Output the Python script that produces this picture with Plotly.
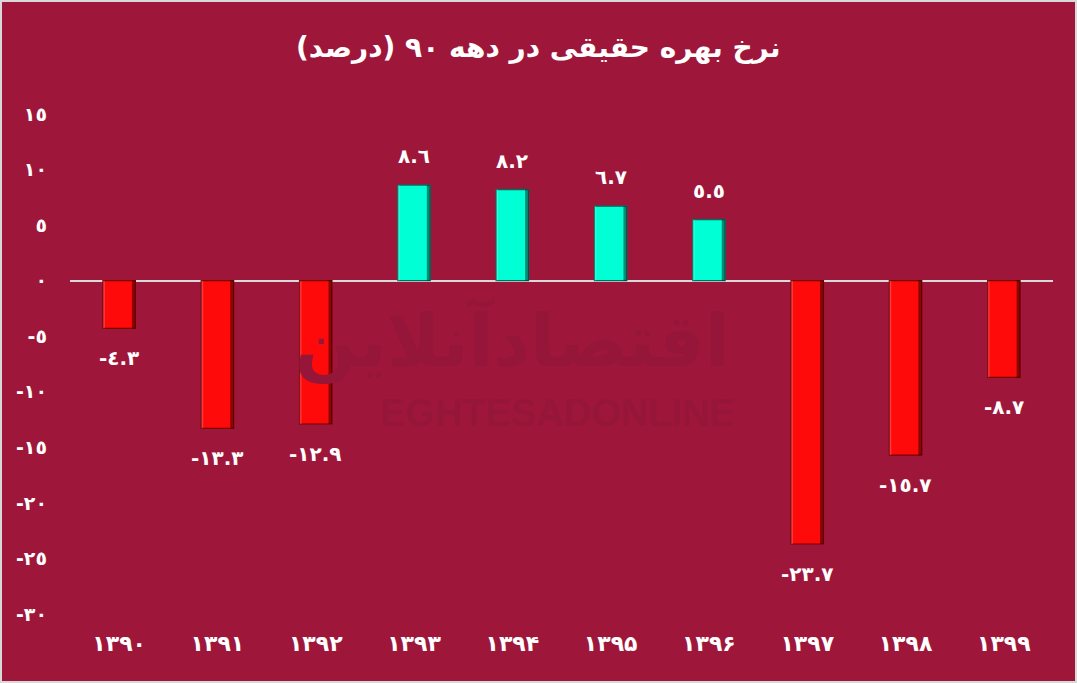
import plotly.graph_objects as go

# ---- data ----
years = ["۱۳۹۰", "۱۳۹۱", "۱۳۹۲", "۱۳۹۳", "۱۳۹۴", "۱۳۹۵", "۱۳۹۶", "۱۳۹۷", "۱۳۹۸", "۱۳۹۹"]
values = [-4.3, -13.3, -12.9, 8.6, 8.2, 6.7, 5.5, -23.7, -15.7, -8.7]
value_labels = ["-٤.٣", "-١٣.٣", "-١٢.٩", "٨.٦", "٨.٢", "٦.٧", "٥.٥", "-٢٣.٧", "-١٥.٧", "-٨.٧"]
y_ticks = [15, 10, 5, 0, -5, -10, -15, -20, -25, -30]
y_tick_labels = ["١٥", "١٠", "٥", "٠", "-٥", "-١٠", "-١٥", "-٢٠", "-٢٥", "-٣٠"]
title_text = "نرخ بهره حقیقی در دهه ۹۰ (درصد)"

BG = "#9E173B"
W, H = 1077, 683
ML, MR, MT, MB = 70, 24, 114, 69

pos_color, pos_edge = "#00FFD5", "#00705E"
neg_color, neg_edge = "#FF0A0A", "#7A0000"
colors = [pos_color if v >= 0 else neg_color for v in values]
edges = [pos_edge if v >= 0 else neg_edge for v in values]

BW = 0.33
fig = go.Figure()
fig.add_trace(go.Bar(
    x=years, y=values, width=BW, offset=-BW / 2,
    marker=dict(color=colors, line=dict(color=edges, width=1.2)),
    hoverinfo="skip", showlegend=False,
))
# darker right edge for bevel look
fig.add_trace(go.Bar(
    x=years, y=values, width=0.035, offset=BW / 2 - 0.035,
    marker=dict(color="rgba(0,0,0,0.45)", line=dict(width=0)),
    hoverinfo="skip", showlegend=False,
))
# lighter left edge
fig.add_trace(go.Bar(
    x=years, y=values, width=0.02, offset=-BW / 2,
    marker=dict(color="rgba(255,255,255,0.18)", line=dict(width=0)),
    hoverinfo="skip", showlegend=False,
))

annotations = []
for x, v, t in zip(years, values, value_labels):
    annotations.append(dict(
        x=x, y=v, text=t, showarrow=False, xref="x", yref="y",
        xanchor="center", yanchor="middle",
        yshift=29 if v >= 0 else -30,
        font=dict(family="DejaVu Sans", size=20, color="white", weight="bold"),
    ))

pw = W - ML - MR
ph = H - MT - MB
def px2x(p):
    return (p - ML) / pw
def py2y(p):
    return 1 - (p - MT) / ph

# watermark
annotations.append(dict(
    x=px2x(512), y=py2y(340), xref="paper", yref="paper", text="اقتصادآنلاین",
    xanchor="center", yanchor="middle",
    showarrow=False, font=dict(family="DejaVu Sans", size=72, color="#961639", weight="bold"),
))
annotations.append(dict(
    x=px2x(557), y=py2y(413), xref="paper", yref="paper", text="EGHTESADONLINE",
    xanchor="center", yanchor="middle",
    showarrow=False, font=dict(family="Liberation Sans", size=38, color="#961639", weight="bold"),
))
# title
annotations.append(dict(
    x=px2x(538), y=py2y(48), xref="paper", yref="paper", text=title_text,
    xanchor="center", yanchor="middle",
    showarrow=False, font=dict(family="DejaVu Sans", size=28, color="white", weight="bold"),
))

fig.update_layout(
    width=W, height=H,
    margin=dict(l=ML, r=MR, t=MT, b=MB),
    paper_bgcolor=BG, plot_bgcolor=BG,
    barmode="overlay",
    annotations=annotations,
    shapes=[dict(
        type="rect", xref="paper", yref="paper",
        x0=px2x(1), x1=px2x(W - 1), y0=py2y(H - 1), y1=py2y(1),
        line=dict(color="#D9D9D9", width=2), fillcolor="rgba(0,0,0,0)", layer="below",
    )],
    xaxis=dict(
        showgrid=False, zeroline=False, showline=False, ticks="",
        tickfont=dict(family="DejaVu Sans", size=22, color="white", weight="bold"),
        ticklabelstandoff=14,
    ),
    yaxis=dict(
        range=[-30, 15], showgrid=False, showline=False, ticks="",
        zeroline=True, zerolinecolor="#D9D9D9", zerolinewidth=2,
        tickvals=y_ticks, ticktext=y_tick_labels,
        tickfont=dict(family="DejaVu Sans", size=19, color="white", weight="bold"),
        ticklabelstandoff=22,
    ),
)

fig.write_html("out.html", config={"displayModeBar": False},
               post_script="document.body.style.margin='0';")
